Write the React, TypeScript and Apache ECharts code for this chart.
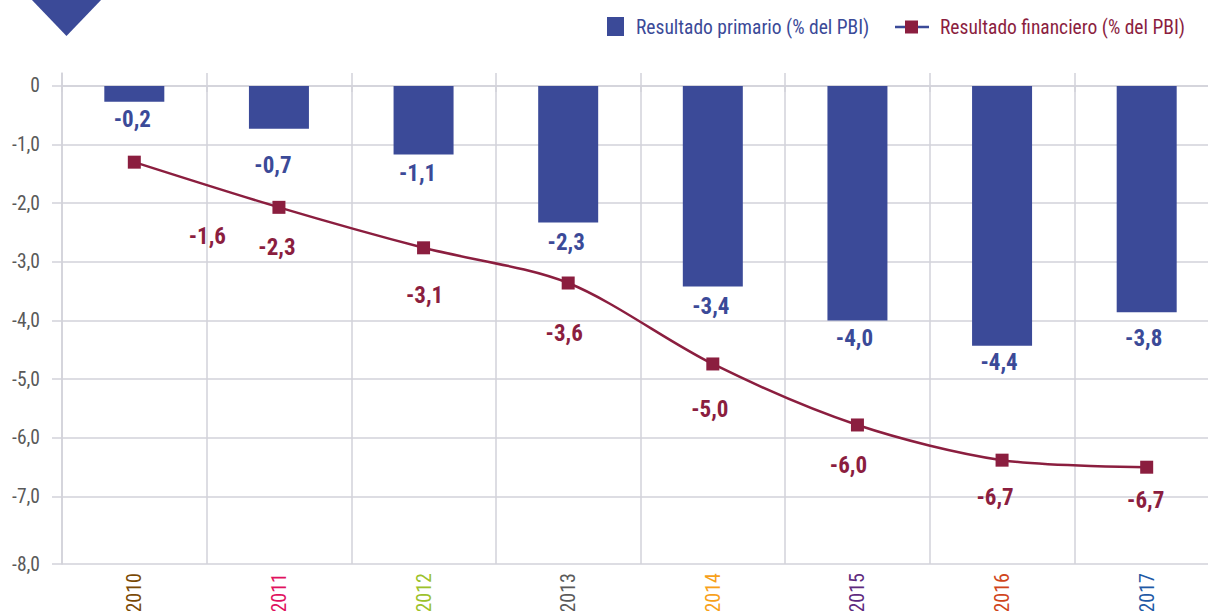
import React, { useEffect, useRef } from 'react';
import * as echarts from 'echarts';

// ---- data ----
const years = ['2010', '2011', '2012', '2013', '2014', '2015', '2016', '2017'];
const yearColors = ['#7A4A06', '#E0125E', '#9CC12B', '#5A5A5A', '#F7A11A', '#5E2A7E', '#D0451B', '#1F5AA6'];
const primario = [-0.27, -0.73, -1.17, -2.33, -3.42, -4.0, -4.43, -3.86];
const primarioLabels = ['-0,2', '-0,7', '-1,1', '-2,3', '-3,4', '-4,0', '-4,4', '-3,8'];
const financiero = [-1.3, -2.07, -2.76, -3.36, -4.74, -5.78, -6.38, -6.5];
const financieroLabels = ['-1,6', '-2,3', '-3,1', '-3,6', '-5,0', '-6,0', '-6,7', '-6,7'];
const yTicks = [0, -1, -2, -3, -4, -5, -6, -7, -8.15];
const seriesNames = ['Resultado primario (% del PBI)', 'Resultado financiero (% del PBI)'];

// ---- label placement (styling) ----
const barLabelDistance = [5, 24, 6, 7, 7, 5, 4, 13];
const barLabelDx = [-2, -6, -6, -2, -2, -3, -3, -3];
const lineLabelOffset = [[73, 74], [-2, 40], [1, 48], [-4, 50], [-3, 46], [-9, 41], [-7, 37], [-1, 33]];

const FONT = "'Roboto Condensed', 'Liberation Sans Narrow', 'DejaVu Sans Condensed', Roboto, sans-serif";
const BLUE = '#3B4A98';
const RED = '#8B1E3F';
const GRID = '#D2D2DA';

export default function App() {
  const ref = useRef<HTMLDivElement>(null);
  useEffect(() => {
    if (!ref.current) return;
    const chart = echarts.init(ref.current, undefined, { renderer: 'svg' });
    const option: any = {
      animation: false,
      grid: { left: 62, top: 73, width: 1157, height: 491, containLabel: false, outerBoundsMode: 'none' },
      xAxis: {
        type: 'category',
        data: years,
        boundaryGap: true,
        axisLine: { show: true, lineStyle: { color: GRID, width: 1.5 } },
        axisTick: { show: true, length: 6, lineStyle: { color: GRID, width: 1.5 } },
        splitLine: { show: true, lineStyle: { color: GRID, width: 1.5 } },
        axisLabel: {
          rotate: 90,
          margin: 9,
          interval: 0,
          fontSize: 20,
          fontFamily: FONT,
          color: (v: string) => yearColors[years.indexOf(v)] || '#555',
        },
      },
      yAxis: {
        type: 'value',
        min: -8.15,
        max: 0.22,
        axisLine: { show: true, lineStyle: { color: GRID, width: 1.5 } },
        axisTick: { show: true, length: 10, customValues: yTicks, lineStyle: { color: GRID, width: 1.5 } },
        axisLabel: {
          customValues: yTicks,
          margin: 22,
          fontSize: 19.5,
          fontFamily: FONT,
          color: '#595959',
          formatter: (v: number) => (Math.abs(v) < 1e-9 ? '0' : Math.round(v).toFixed(1).replace('.', ',')),
        },
        splitLine: { show: true, lineStyle: { color: GRID, width: 1.5 } },
      },
      series: [
        {
          name: seriesNames[0],
          type: 'bar',
          barWidth: 60,
          itemStyle: { color: BLUE },
          data: primario.map((v, i) => ({
            value: v,
            label: { distance: barLabelDistance[i], offset: [barLabelDx[i], 0] },
          })),
          label: {
            show: true,
            position: 'bottom',
            color: BLUE,
            fontSize: 23,
            fontWeight: 'bold',
            fontFamily: FONT,
            lineHeight: 26,
            formatter: (p: any) => primarioLabels[p.dataIndex],
          },
          z: 2,
        },
        {
          name: seriesNames[1],
          type: 'line',
          smooth: 0.3,
          symbol: 'rect',
          symbolSize: 13,
          itemStyle: { color: RED },
          lineStyle: { color: RED, width: 2.5 },
          data: financiero.map((v, i) => ({
            value: v,
            label: { offset: lineLabelOffset[i] },
          })),
          label: {
            show: true,
            position: 'inside',
            color: RED,
            fontSize: 23,
            fontWeight: 'bold',
            fontFamily: FONT,
            lineHeight: 26,
            formatter: (p: any) => financieroLabels[p.dataIndex],
          },
          z: 3,
        },
      ],
      graphic: [
        { type: 'polygon', shape: { points: [[31, -1], [102, -1], [66.5, 36]] }, style: { fill: BLUE } },
        { type: 'rect', shape: { x: 607, y: 17, width: 17, height: 19 }, style: { fill: BLUE } },
        {
          type: 'text', x: 636, y: 27,
          style: { text: seriesNames[0], fill: BLUE, fontSize: 19.5, fontFamily: FONT, verticalAlign: 'middle', align: 'left' },
        },
        { type: 'line', shape: { x1: 895, y1: 27, x2: 929, y2: 27 }, style: { stroke: BLUE, lineWidth: 2.5 } },
        { type: 'rect', shape: { x: 905, y: 20.5, width: 13, height: 13 }, style: { fill: RED } },
        {
          type: 'text', x: 940, y: 27,
          style: { text: seriesNames[1], fill: RED, fontSize: 19.5, fontFamily: FONT, verticalAlign: 'middle', align: 'left' },
        },
      ],
    };
    chart.setOption(option);
    return () => chart.dispose();
  }, []);
  return (
    <div
      ref={ref}
      style={{ position: 'absolute', left: 0, top: 0, width: 1208, height: 611, background: '#fff' }}
    />
  );
}
